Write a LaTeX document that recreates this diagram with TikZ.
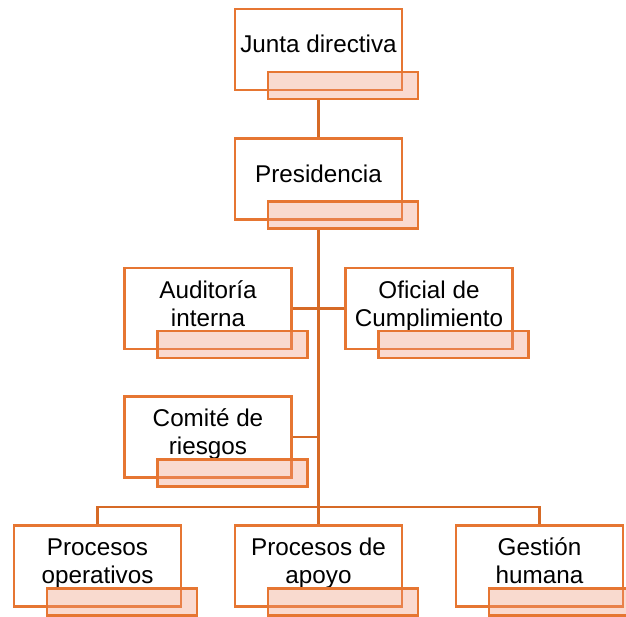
\documentclass[tikz,border=0pt]{standalone}
\usepackage{fontspec}
\setmainfont{Liberation Sans}
\usepackage{tikz}
\usepackage{xcolor}

\definecolor{orgline}{RGB}{230,118,50}
\definecolor{orgdark}{RGB}{214,106,38}
\definecolor{orgfill}{RGB}{240,150,120}

\begin{document}
\begin{tikzpicture}[x=0.02cm,y=-0.02cm,
    orgbox/.style={draw=orgline,line width=1.6pt,fill=white,minimum width=3.34cm,minimum height=1.62cm,inner sep=0pt},
    orgtab/.style={draw=orgline,line width=1.6pt,fill=orgfill,fill opacity=0.35,draw opacity=1,minimum width=3cm,minimum height=0.54cm,inner sep=0pt},
    orgtext/.style={align=center,inner sep=0pt,font=\fontsize{13.8}{15.9}\selectfont},
    orgedge/.style={draw=orgdark,line width=1.5pt},
  ]
  \useasboundingbox (0,0) rectangle (626,616);

  % unit boxes
  \node[orgbox] (junta) at (318.5,49.5) {};
  \node[orgbox] (pres) at (318.5,179) {};
  \node[orgbox] (audit) at (208,308.5) {};
  \node[orgbox] (ofic) at (429,308.5) {};
  \node[orgbox] (riesgo) at (208,437) {};
  \node[orgbox] (oper) at (97.5,566) {};
  \node[orgbox] (apoyo) at (318.5,566) {};
  \node[orgbox] (humana) at (539.5,566) {};

  % labels
  \node[orgtext] (junta-t) at ([shift={(0,-3)}]junta.center) {\strut Junta directiva};
  \node[orgtext] (pres-t) at ([shift={(0,-2.5)}]pres.center) {\strut Presidencia};
  \node[orgtext] (audit-t) at ([shift={(0,-2)}]audit.center) {\strut Auditoría\\\strut interna};
  \node[orgtext] (ofic-t) at ([shift={(0,-2)}]ofic.center) {\strut Oficial de\\\strut Cumplimiento};
  \node[orgtext] (riesgo-t) at ([shift={(0,-2)}]riesgo.center) {\strut Comité de\\\strut riesgos};
  \node[orgtext] (oper-t) at ([shift={(0,-2)}]oper.center) {\strut Procesos\\\strut operativos};
  \node[orgtext] (apoyo-t) at ([shift={(0,-2)}]apoyo.center) {\strut Procesos de\\\strut apoyo};
  \node[orgtext] (humana-t) at ([shift={(0,-2)}]humana.center) {\strut Gestión\\\strut humana};

  % tabs
  \foreach \u in {junta,pres,audit,ofic,riesgo,oper,apoyo,humana}
    \node[orgtab] (\u-tab) at ([shift={(24.5,36)}]\u.center) {};

  % connectors
  \coordinate (bus) at (318.5,507);
  \draw[orgedge] (junta.center |- junta-tab.south) -- (pres.north);
  \draw[orgedge] (pres.center |- pres-tab.south) -- (bus);
  \draw[orgedge] (audit.east) -- (audit.east -| bus);
  \draw[orgedge] (ofic.west) -- (ofic.west -| bus);
  \draw[orgedge] (riesgo.east) -- (riesgo.east -| bus);
  \draw[orgedge] (oper.north) |- (bus) -| (humana.north);
  \draw[orgedge] (bus) -- (apoyo.north);
\end{tikzpicture}
\end{document}
